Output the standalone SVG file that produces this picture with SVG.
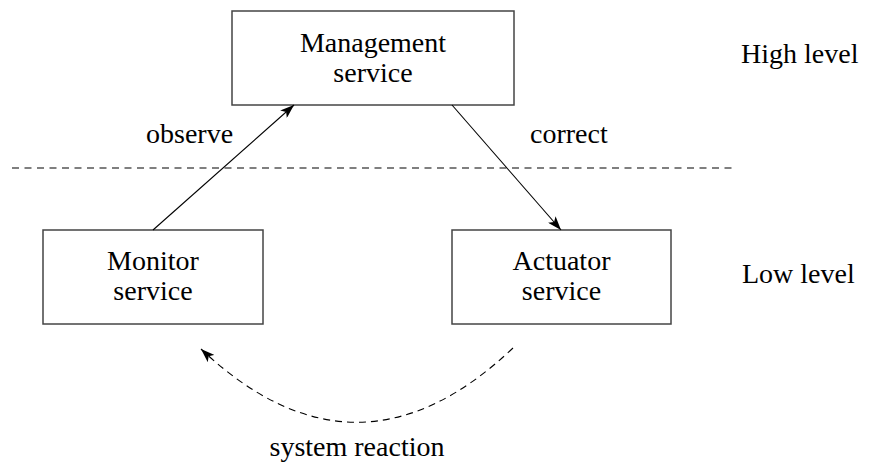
<svg xmlns="http://www.w3.org/2000/svg" width="873" height="463" viewBox="0 0 873 463">
  <style>
    .box { fill: #fff; stroke: #444; stroke-width: 1.5; }
    .lbl { font-family: "Liberation Serif", "Times New Roman", serif; font-size: 28px; fill: #000; }
    .mid { text-anchor: middle; }
    .edge { fill: none; stroke: #000; stroke-width: 1.1; }
    .dash { stroke-dasharray: 7 5; }
    .level { stroke: #555; stroke-width: 1.4; stroke-dasharray: 7 5.5; }
  </style>
  <defs>
    <marker id="head" viewBox="0 0 14 10" refX="14" refY="5" markerWidth="14" markerHeight="10" markerUnits="userSpaceOnUse" orient="auto">
      <path d="M0,0 L14,5 L0,10 L3.5,5 Z" fill="#000"/>
    </marker>
  </defs>

  <rect width="873" height="463" fill="#fff"/>

  <!-- separator between the two levels -->
  <line class="level" x1="12" y1="168" x2="735" y2="168"/>

  <g id="management">
    <rect class="box" x="232" y="11" width="282" height="94"/>
    <text class="lbl mid" x="373" y="52">Management</text>
    <text class="lbl mid" x="373" y="82">service</text>
  </g>

  <g id="monitor">
    <rect class="box" x="43" y="230" width="220" height="94"/>
    <text class="lbl mid" x="153" y="270">Monitor</text>
    <text class="lbl mid" x="153" y="300">service</text>
  </g>

  <g id="actuator">
    <rect class="box" x="452" y="230" width="219" height="94"/>
    <text class="lbl mid" x="561.5" y="270">Actuator</text>
    <text class="lbl mid" x="561.5" y="300">service</text>
  </g>

  <g id="connectors">
    <line class="edge" x1="153" y1="230" x2="294" y2="105" marker-end="url(#head)"/>
    <line class="edge" x1="452" y1="105" x2="561" y2="230" marker-end="url(#head)"/>
    <path class="edge dash" d="M513,348 Q357,496 201,349" marker-end="url(#head)"/>
  </g>

  <g id="labels">
    <text class="lbl" x="146" y="143">observe</text>
    <text class="lbl" x="530" y="143">correct</text>
    <text class="lbl mid" x="357" y="456">system reaction</text>
    <text class="lbl" x="741" y="63">High level</text>
    <text class="lbl" x="742" y="283">Low level</text>
  </g>
</svg>
